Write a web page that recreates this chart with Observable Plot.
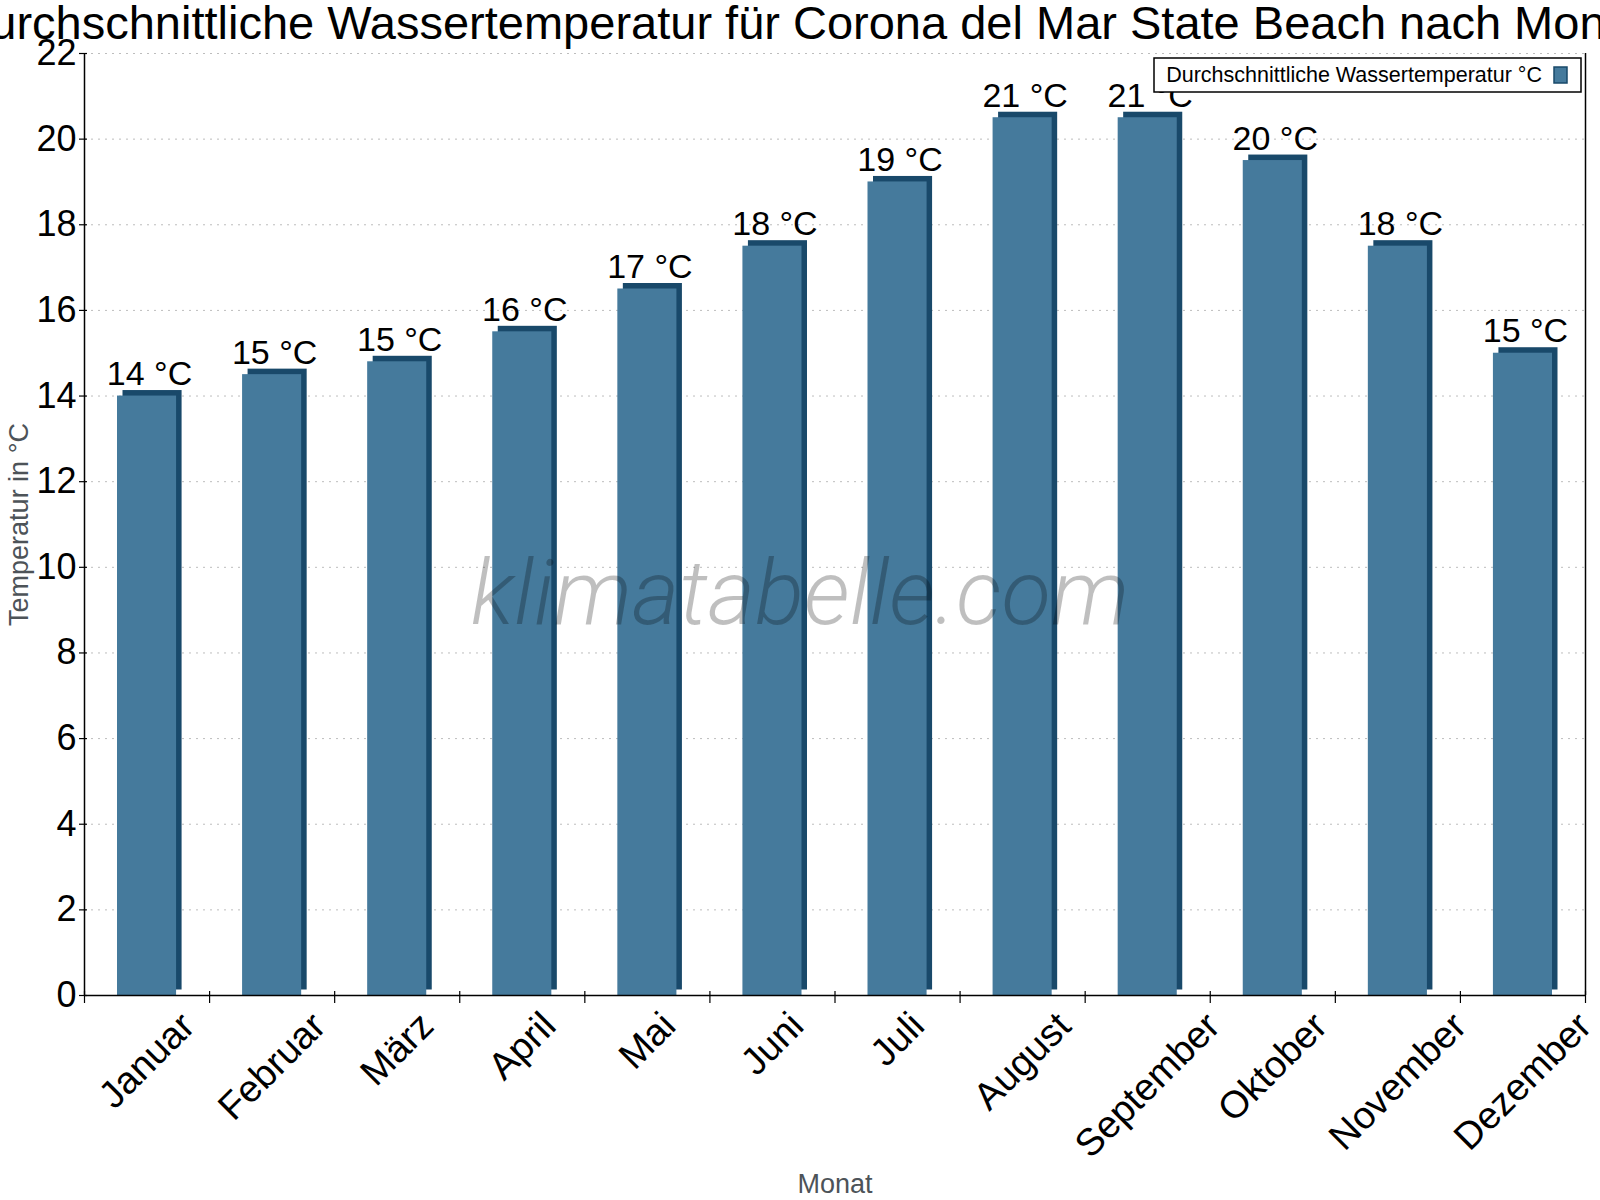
<!DOCTYPE html>
<html>
<head>
<meta charset="utf-8">
<script src="https://cdn.jsdelivr.net/npm/d3@7"></script>
<script src="https://cdn.jsdelivr.net/npm/@observablehq/plot@0.6"></script>
<style>
  html, body { margin: 0; padding: 0; background: #fff; }
  #chart svg { overflow: visible; display: block; }
</style>
</head>
<body>
<div id="chart"></div>
<script>
const title = "Durchschnittliche Wassertemperatur für Corona del Mar State Beach nach Monat";
const months = ["Januar", "Februar", "März", "April", "Mai", "Juni", "Juli", "August", "September", "Oktober", "November", "Dezember"];
const temps = [14.0, 14.5, 14.8, 15.5, 16.5, 17.5, 19.0, 20.5, 20.5, 19.5, 17.5, 15.0];
const yTicks = [0, 2, 4, 6, 8, 10, 12, 14, 16, 18, 20, 22];
const seriesName = "Durchschnittliche Wassertemperatur °C";
const yLabel = "Temperatur in °C";
const xLabel = "Monat";
const watermark = "klimatabelle.com";

const data = months.map((m, i) => ({month: m, i, temp: temps[i]}));
const idx = d3.range(months.length + 1);

const faceColor = "#457a9c";
const sideColor = "#19496a";
const font = "'Liberation Sans', Arial, sans-serif";

const chart = Plot.plot({
  width: 1600,
  height: 1200,
  marginTop: 53,
  marginBottom: 205,
  marginLeft: 84,
  marginRight: 15,
  style: {fontFamily: font, background: "#fff", overflow: "visible"},
  x: {type: "linear", domain: [0, months.length], axis: null},
  y: {domain: [0, 22], axis: null},
  marks: [
    Plot.gridY(yTicks, {stroke: "#bdbdbd", strokeOpacity: 1, strokeDasharray: "2,5", strokeWidth: 1}),
    // 3D depth (top + right side)
    Plot.rectY(data, {x1: d => d.i, x2: d => d.i + 1, y: "temp", fill: sideColor, insetLeft: 33, insetRight: 33, dx: 5.5, dy: -5.5}),
    // front face
    Plot.rectY(data, {x1: d => d.i, x2: d => d.i + 1, y: "temp", fill: faceColor, insetLeft: 33, insetRight: 33}),
    // value labels
    Plot.text(data, {x: d => d.i + 0.5, y: "temp", text: d => `${Math.round(d.temp)} °C`, textAnchor: "middle", dx: 2.5, dy: -11, lineAnchor: "bottom", fontSize: 34, fill: "#000"}),
    // watermark
    Plot.text([watermark], {frameAnchor: "middle", textAnchor: "middle", dx: -35, dy: 99, lineAnchor: "bottom", fontSize: 91, fontStyle: "italic", fontWeight: 300, fontFamily: "Roboto, 'Liberation Sans', sans-serif", fill: "#000", fillOpacity: 0.25}),
    // axes lines
    Plot.ruleY([0], {stroke: "#000", strokeWidth: 1.5}),
    Plot.ruleX([0, months.length], {y1: 0, y2: 22, stroke: "#000", strokeWidth: 1.5}),
    // y ticks
    Plot.ruleY(yTicks, {x1: 0, x2: 0, insetLeft: -5, insetRight: -3, stroke: "#000", strokeWidth: 1.2}),
    // x ticks at category boundaries
    Plot.ruleX(idx, {y1: 0, y2: 0, insetTop: -4, insetBottom: -8, stroke: "#000", strokeWidth: 1.2}),
    // y tick labels
    Plot.text(yTicks, {y: d => d, frameAnchor: "left", dx: -8, textAnchor: "end", lineAnchor: "middle", fontSize: 36, fill: "#000"}),
    // x tick labels (re-centred below after render)
    Plot.text(data, {x: d => d.i + 0.5, text: "month", frameAnchor: "bottom", rotate: -45, textAnchor: "end", lineAnchor: "bottom", dx: 49, dy: 33, fontSize: 38, fill: "#000"}),
    // title
    Plot.text([title], {frameAnchor: "top", textAnchor: "middle", dx: -34.5, dy: -15, lineAnchor: "bottom", fontSize: 47, fill: "#000"}),
    // axis titles
    Plot.text([yLabel], {frameAnchor: "left", textAnchor: "middle", dx: -57, rotate: -90, lineAnchor: "bottom", fontSize: 27, fill: "#4d5358"}),
    Plot.text([xLabel], {frameAnchor: "bottom", textAnchor: "middle", dy: 197, lineAnchor: "bottom", fontSize: 27, fill: "#4d5358"})
  ]
});

document.getElementById("chart").appendChild(chart);

// centre each rotated month label's bounding box horizontally on its category
const xs = chart.scale("x");
const ys = chart.scale("y");
const svgBox = chart.getBoundingClientRect();
const labelTop = ys.apply(0) + 9; // top of rotated label boxes
d3.select(chart).selectAll("text")
  .filter(function () { return /rotate\(-45\)/.test(this.getAttribute("transform") || ""); })
  .each(function () {
    const name = this.textContent;
    const i = months.indexOf(name);
    if (i < 0) return;
    const r = this.getBoundingClientRect();
    const cx = xs.apply(i + 0.5);
    const shiftX = cx - ((r.left + r.right) / 2 - svgBox.left);
    const shiftY = labelTop - (r.top - svgBox.top);
    const t = this.getAttribute("transform");
    this.setAttribute("transform", `translate(${shiftX},${shiftY}) ${t}`);
  });

// legend (overlays the plot, top right)
const svg = d3.select(chart);
const lg = svg.append("g").attr("font-family", font);
lg.append("rect").attr("x", 1154).attr("y", 58).attr("width", 427).attr("height", 34)
  .attr("fill", "#fff").attr("stroke", "#000").attr("stroke-width", 1.5);
lg.append("text").attr("x", 1542).attr("y", 82).attr("text-anchor", "end")
  .attr("font-size", 21.5).attr("fill", "#000").text(seriesName);
lg.append("rect").attr("x", 1554).attr("y", 67).attr("width", 13).attr("height", 16)
  .attr("fill", faceColor).attr("stroke", sideColor).attr("stroke-width", 1.5);
</script>
</body>
</html>
